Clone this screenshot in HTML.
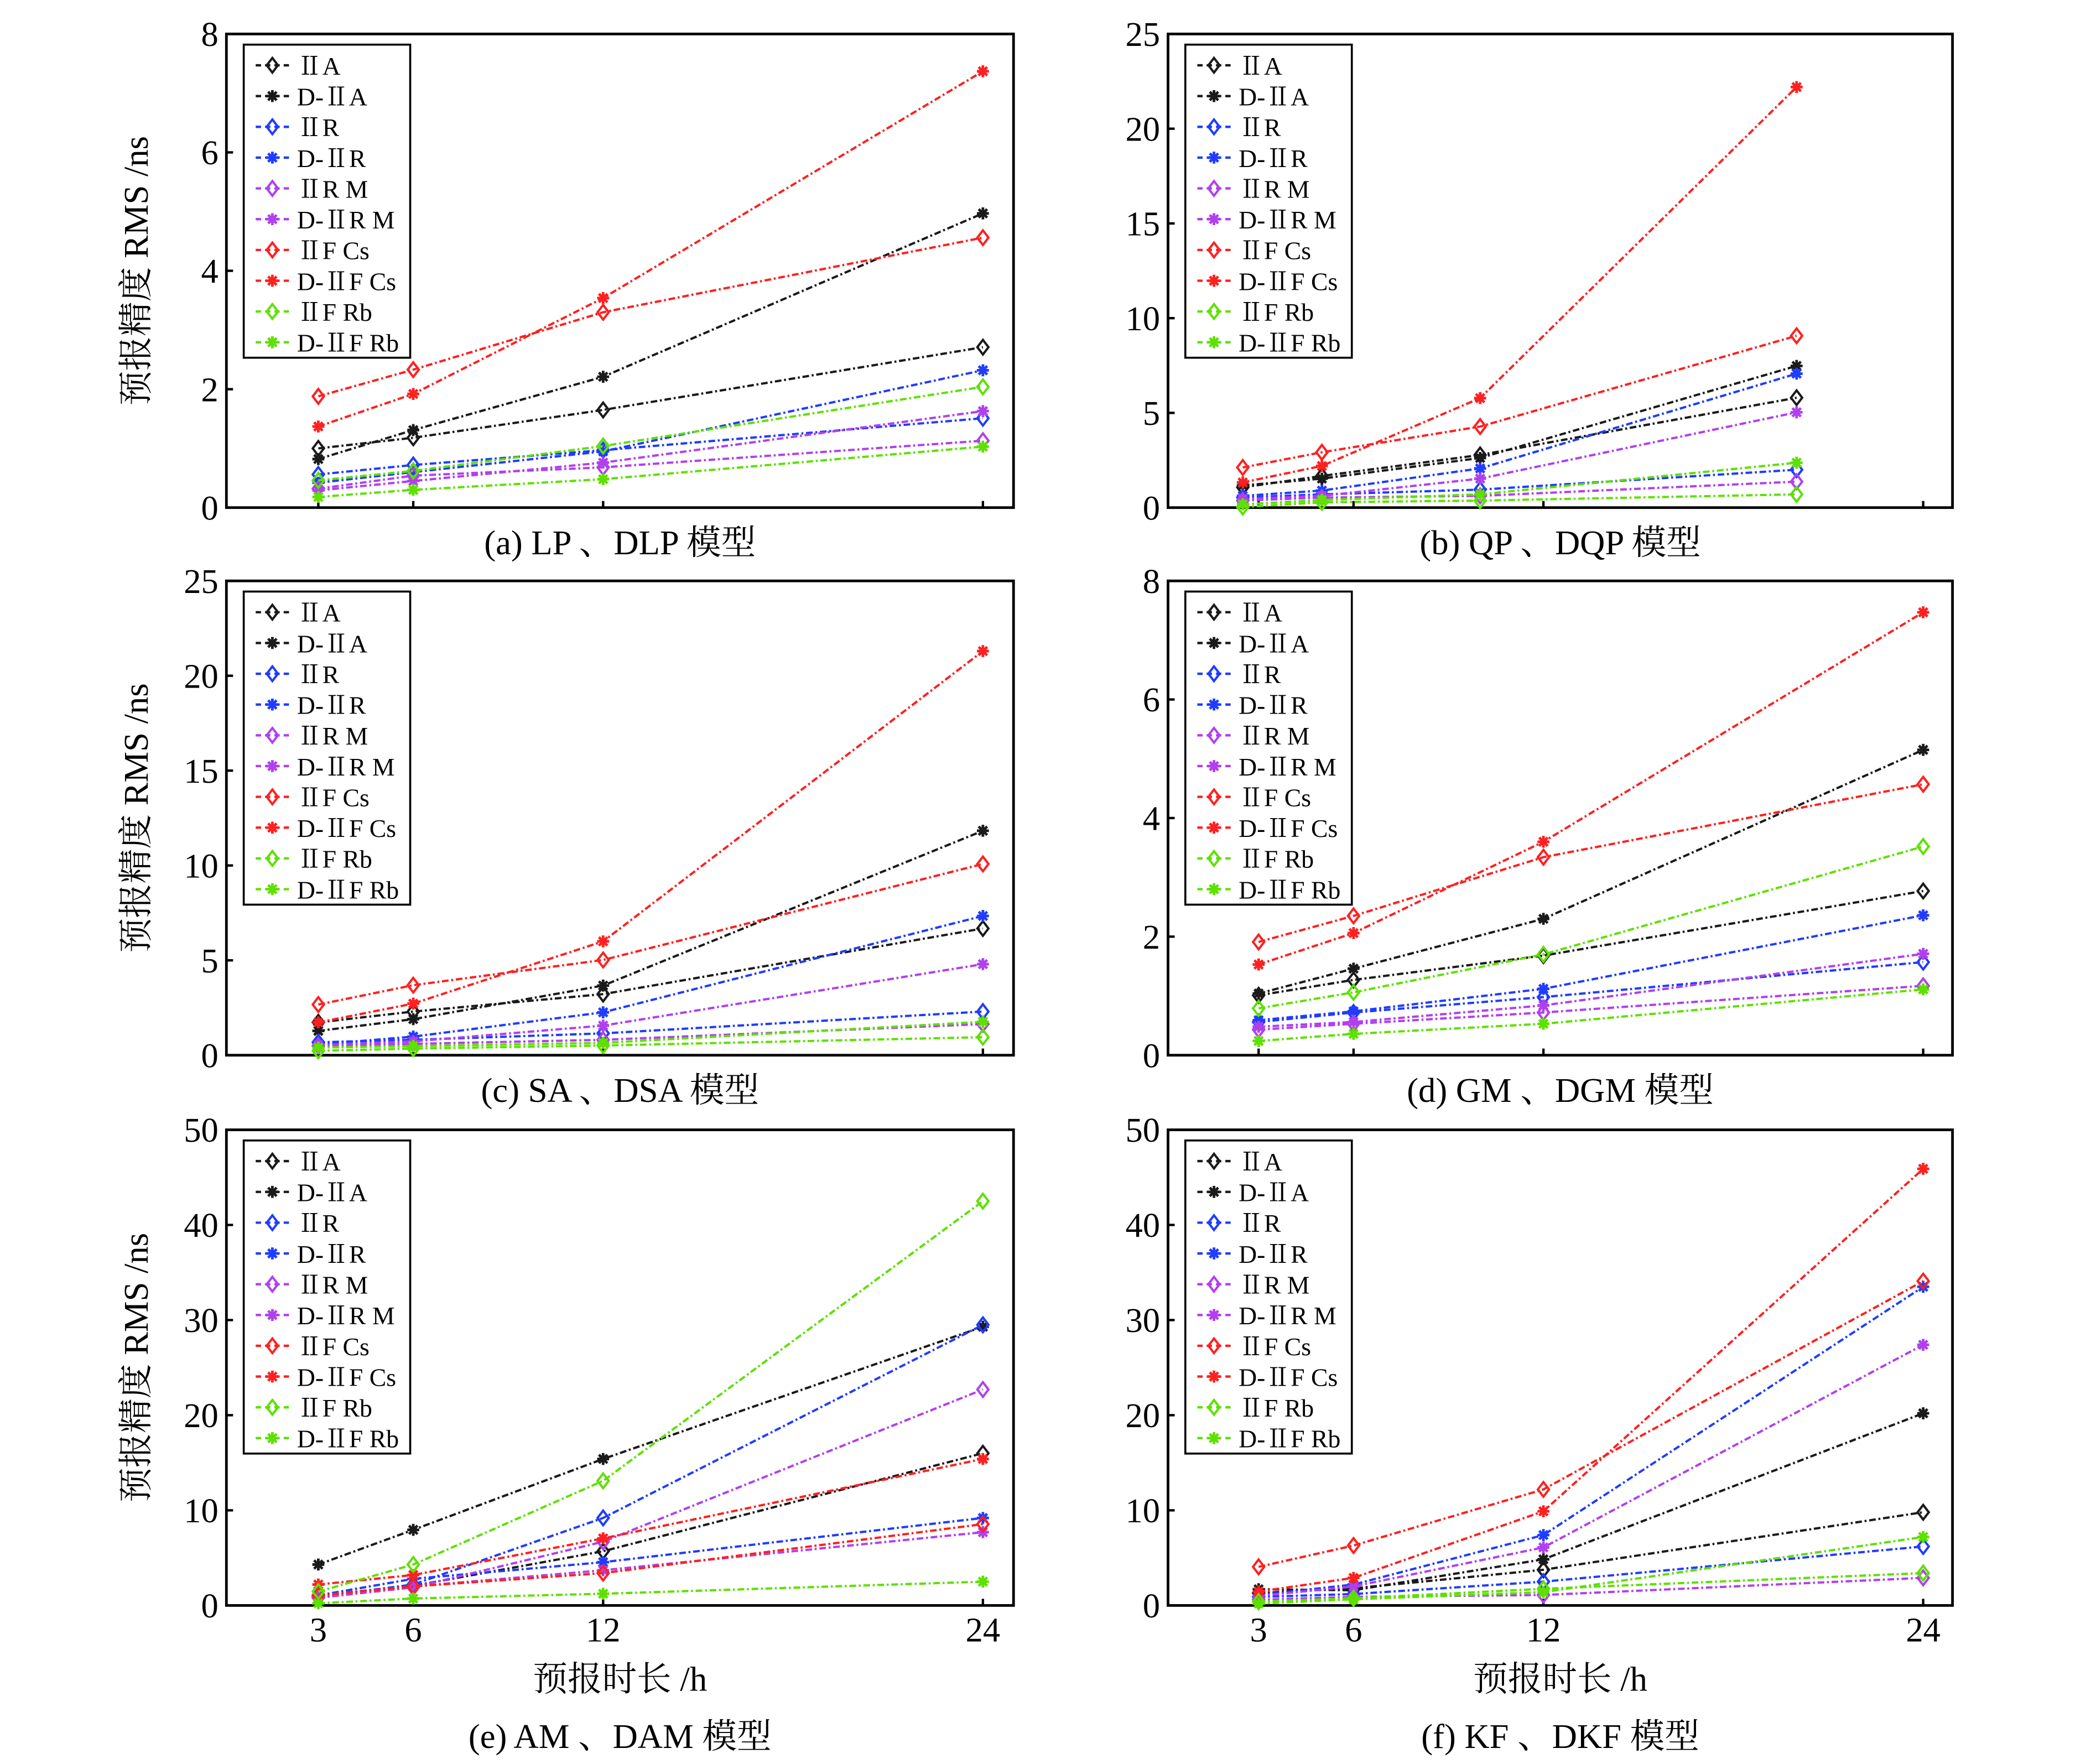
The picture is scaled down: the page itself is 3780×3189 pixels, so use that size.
<!DOCTYPE html>
<html><head><meta charset="utf-8"><style>
html,body{margin:0;padding:0;background:#fff;}
svg{display:block;}
text{font-family:"Liberation Serif","Noto Serif CJK SC","Noto Sans CJK SC",serif;fill:#000;}
</style></head><body>
<svg id="fig" xmlns="http://www.w3.org/2000/svg" width="3780" height="3189" viewBox="0 0 1570 1324" preserveAspectRatio="none"></svg>
<script>
const hours = [3, 6, 12, 24];
const hoursB = [2.5, 5, 10, 20];
const seriesNames = ["ⅡA","D-ⅡA","ⅡR","D-ⅡR","ⅡR M","D-ⅡR M","ⅡF Cs","D-ⅡF Cs","ⅡF Rb","D-ⅡF Rb"];
const seriesColors = ["#1a1a1a","#1a1a1a","#1f3cff","#1f3cff","#b040ee","#b040ee","#ff2020","#ff2020","#5ee000","#5ee000"];
const seriesMarkers = ["d","s","d","s","d","s","d","s","d","s"];
const xTickLabels = ["3","6","12","24"];

const valuesA = [
 [1.0,1.18,1.65,2.71],[0.82,1.31,2.21,4.97],[0.56,0.72,0.97,1.51],[0.42,0.6,0.95,2.32],
 [0.32,0.54,0.68,1.13],[0.29,0.45,0.76,1.63],[1.88,2.33,3.3,4.56],[1.37,1.92,3.54,7.37],
 [0.46,0.62,1.04,2.04],[0.18,0.3,0.48,1.03]];
const valuesB = [
 [1.07,1.67,2.78,5.8],[1.17,1.53,2.62,7.48],[0.53,0.7,0.95,2.0],[0.62,0.9,2.07,7.07],
 [0.37,0.53,0.62,1.37],[0.45,0.62,1.53,5.03],[2.12,2.92,4.28,9.07],[1.33,2.2,5.78,22.2],
 [0.03,0.28,0.37,0.7],[0.17,0.4,0.7,2.37]];
const valuesC = [
 [1.73,2.3,3.22,6.68],[1.28,1.9,3.67,11.83],[0.68,0.81,1.15,2.3],[0.56,0.98,2.26,7.34],
 [0.48,0.6,0.81,1.64],[0.53,0.73,1.56,4.8],[2.67,3.69,5.02,10.08],[1.73,2.72,6.0,21.3],
 [0.23,0.35,0.51,0.95],[0.4,0.48,0.65,1.76]];
const valuesD = [
 [1.01,1.27,1.68,2.77],[1.04,1.46,2.3,5.15],[0.56,0.72,0.98,1.57],[0.59,0.74,1.12,2.36],
 [0.43,0.53,0.72,1.17],[0.48,0.56,0.84,1.71],[1.91,2.35,3.34,4.57],[1.53,2.06,3.6,7.47],
 [0.79,1.06,1.7,3.52],[0.24,0.36,0.53,1.11]];
const valuesE = [
 [1.06,2.06,5.7,16.0],[4.3,7.95,15.4,29.3],[0.9,2.2,9.2,29.5],[1.06,2.8,4.55,9.2],
 [0.8,1.9,6.7,22.7],[0.83,2.0,3.7,7.7],[1.06,2.0,3.4,8.55],[2.2,3.2,7.05,15.4],
 [1.46,4.3,13.1,42.5],[0.23,0.73,1.23,2.5]];
const valuesF = [
 [1.3,1.8,3.75,9.8],[1.7,1.6,4.85,20.2],[0.9,1.2,2.5,6.2],[1.1,2.2,7.4,33.5],
 [0.6,0.9,1.1,2.9],[1.0,2.0,6.1,27.4],[4.06,6.3,12.2,34.1],[1.46,2.9,9.9,45.9],
 [0.4,0.75,1.75,3.4],[0.2,0.65,1.4,7.2]];
const yTicksA = [0,2,4,6,8];
const yTicks25 = [0,5,10,15,20,25];
const yTicks50 = [0,10,20,30,40,50];

const NS = "http://www.w3.org/2000/svg";
const svg = document.getElementById("fig");
function mk(tag, attrs, parent){
  const e = document.createElementNS(NS, tag);
  for (const k in attrs) e.setAttribute(k, attrs[k]);
  (parent||svg).appendChild(e);
  return e;
}
function marker(g, type, cx, cy, color){
  if (type === "d"){
    const m = mk("path",{d:`M${cx} ${cy-5.5}L${cx+4.2} ${cy}L${cx} ${cy+5.5}L${cx-4.2} ${cy}Z`,fill:"none",stroke:color,"stroke-width":1.7},g);
    
    
  } else {
    let d = "";
    for (let i=0;i<4;i++){
      const a = i*Math.PI/4;
      const dx = 4.5*Math.cos(a), dy = 4.5*Math.sin(a);
      d += `M${cx-dx} ${cy-dy}L${cx+dx} ${cy+dy}`;
    }
    const m = mk("path",{d:d,stroke:color,"stroke-width":2,fill:"none"},g);
    
    
  }
}
function panel(opt){
  const {id,x0,x1,y0,y1,xa,xb,ymax,yticks,vals,xs,caption,showX} = opt;
  const g = mk("g",{});
  
  
  const X = h => xa + (h-3)*(xb-xa)/21;
  const Y = v => y1 - v*(y1-y0)/ymax;
  const box = mk("rect",{x:x0,y:y0,width:x1-x0,height:y1-y0,fill:"none",stroke:"#000","stroke-width":2},g);
  
  
  yticks.forEach(t=>{
    const yy = Y(t);
    if (t>0 && t<ymax) {
      const tk = mk("line",{x1:x0,x2:x0+5,y1:yy,y2:yy,stroke:"#000","stroke-width":1.8},g);
      
      
    }
    const tl = mk("text",{x:x0-6,y:yy+9,"text-anchor":"end","font-size":26},g);
    tl.textContent = t;
    
    
  });
  hours.forEach((h,i)=>{
    const xx = X(h);
    const tk = mk("line",{x1:xx,x2:xx,y1:y1,y2:y1-5,stroke:"#000","stroke-width":1.8},g);
    
    
    if (showX){
      const tl = mk("text",{x:xx,y:y1+27,"text-anchor":"middle","font-size":26},g);
      tl.textContent = xTickLabels[i];
      
      
    }
  });
  vals.forEach((s,si)=>{
    const sg = mk("g",{},g);
    
    
    const pts = s.map((v,i)=>X(xs[i])+","+Y(v)).join(" ");
    const ln = mk("polyline",{points:pts,fill:"none",stroke:seriesColors[si],"stroke-width":1.7,"stroke-dasharray":"5 2 1.5 2"},sg);
    
    
    s.forEach((v,i)=>marker(sg, seriesMarkers[si], X(xs[i]), Y(v), seriesColors[si]));
  });
  const lx = x0+13, ly = y0+8;
  const lg = mk("g",{},g);
  
  
  const lb = mk("rect",{x:lx,y:ly,width:125,height:235,fill:"#fff",stroke:"#000","stroke-width":1.5},lg);
  
  
  seriesNames.forEach((n,i)=>{
    const yy = ly+15.5+i*23.1;
    const en = mk("g",{},lg);
    
    
    mk("line",{x1:lx+9,x2:lx+34,y1:yy,y2:yy,stroke:seriesColors[i],"stroke-width":1.8,"stroke-dasharray":"4 3"},en);
    marker(en, seriesMarkers[i], lx+21.5, yy, seriesColors[i]);
    const t = mk("text",{x:lx+40,y:yy+7,"font-size":19},en);
    t.textContent = n;
  });
  const cap = mk("text",{x:(x0+x1)/2,y:y1+35,"text-anchor":"middle","font-size":26},g);
  cap.textContent = caption;
  
  
  if (showX) {
    cap.setAttribute('y', y1+107);
    const xt = mk("text",{x:(x0+x1)/2,y:y1+64,"text-anchor":"middle","font-size":26},g);
    xt.textContent = "预报时长 /h";
    
    
  }
  if (x0 < 500) {
    const cy = (y0+y1)/2;
    const yt = mk("text",{x:0,y:0,"text-anchor":"middle","font-size":26,transform:`translate(111 ${cy}) rotate(-90)`},g);
    yt.textContent = "预报精度 RMS /ns";
    
    
  }
}
const L = {x0:170,x1:761,xa:239,xb:738};
const R = {x0:877,x1:1466,xa:945,xb:1444};
panel({id:"a",...L,y0:25.5,y1:381,ymax:8,yticks:yTicksA,vals:valuesA,xs:hours,caption:"(a) LP 、DLP 模型",showX:false});
panel({id:"b",...R,y0:25.5,y1:381,ymax:25,yticks:yTicks25,vals:valuesB,xs:hoursB,caption:"(b) QP 、DQP 模型",showX:false});
panel({id:"c",...L,y0:436,y1:792,ymax:25,yticks:yTicks25,vals:valuesC,xs:hours,caption:"(c) SA 、DSA 模型",showX:false});
panel({id:"d",...R,y0:436,y1:792,ymax:8,yticks:yTicksA,vals:valuesD,xs:hours,caption:"(d) GM 、DGM 模型",showX:false});
panel({id:"e",...L,y0:848,y1:1205,ymax:50,yticks:yTicks50,vals:valuesE,xs:hours,caption:"(e) AM 、DAM 模型",showX:true});
panel({id:"f",...R,y0:848,y1:1205,ymax:50,yticks:yTicks50,vals:valuesF,xs:hours,caption:"(f) KF 、DKF 模型",showX:true});
</script>
</body></html>
